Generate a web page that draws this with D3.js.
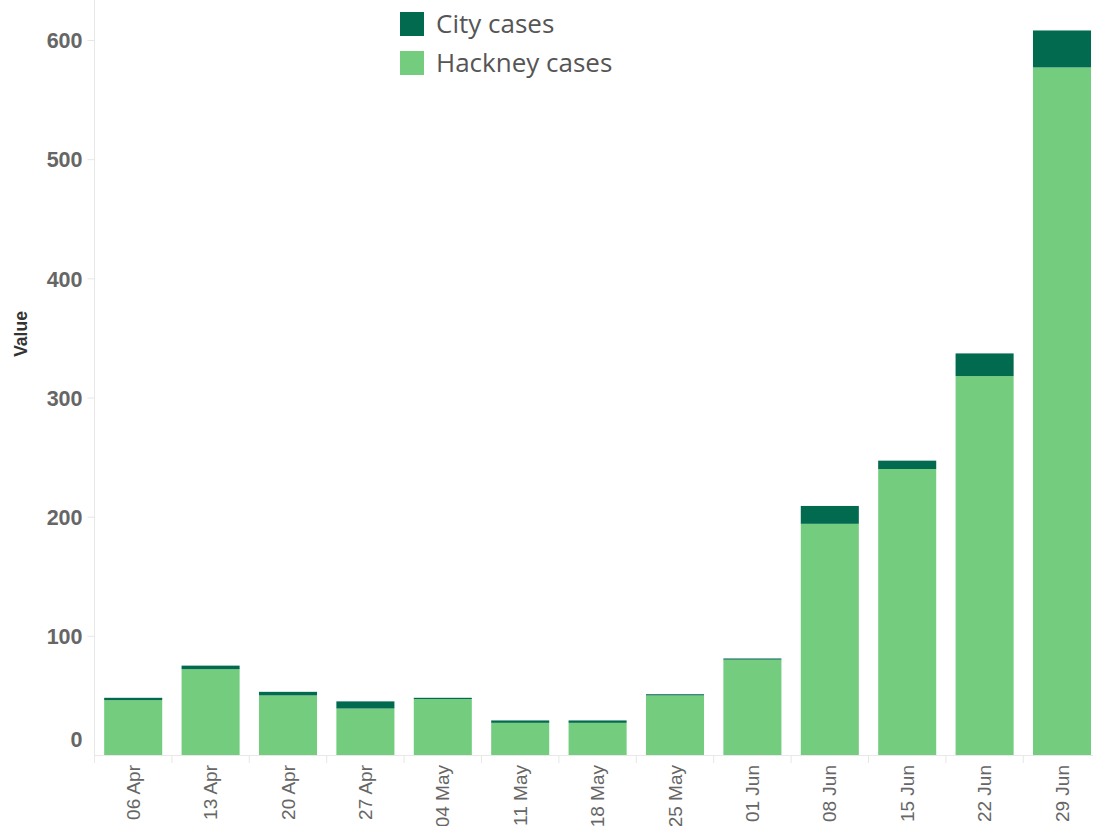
<!DOCTYPE html>
<html><head><meta charset="utf-8">
<script src="https://cdn.jsdelivr.net/npm/d3@7"></script>
<style>body{margin:0;background:#fff;overflow:hidden}svg{display:block}</style>
</head><body>
<svg id="c" width="1093" height="826"></svg>
<script>
const weeks = ["06 Apr","13 Apr","20 Apr","27 Apr","04 May","11 May","18 May","25 May","01 Jun","08 Jun","15 Jun","22 Jun","29 Jun"];
const hackney = [46,72,50,39,47,27,27,50,80,194,240,318,577];
const city = [2,3,3,6,1,2,2,1,1,15,7,19,31];
const yTicks = [0,100,200,300,400,500,600];
const seriesNames = ["City cases","Hackney cases"];
const colors = ["#026a4e","#74cd7e"];

const svg = d3.select("#c");
const arial = "'Liberation Sans', Arial, sans-serif";
const book = "'Open Sans', sans-serif";
const x = d3.scaleBand().domain(weeks).range([94.5, 1100.7]).paddingInner(0.25).paddingOuter(0.125);
const y = d3.scaleLinear().domain([0, 600]).range([755, 40]);

// axis lines
svg.append("line").attr("x1",94.5).attr("x2",94.5).attr("y1",0).attr("y2",763).attr("stroke","#e8e8e8");
svg.append("line").attr("x1",94.5).attr("x2",1093).attr("y1",755.5).attr("y2",755.5).attr("stroke","#e8e8e8");

// y axis
const yAxis = svg.append("g").attr("transform","translate(94.5,0)")
  .call(d3.axisLeft(y).tickValues(yTicks).tickSize(7).tickPadding(5));
yAxis.select(".domain").remove();
yAxis.selectAll(".tick line").attr("stroke","#e6e6e6");
yAxis.selectAll(".tick text").attr("fill","#666").attr("font-family",arial)
  .attr("font-size",21.5).attr("font-weight","bold").attr("dy","0.36em")
  .attr("y", d => d === 0 ? -16 : 0);
yAxis.selectAll(".tick").filter(d => d === 0).select("line").remove();

svg.append("text").attr("transform","translate(27,334) rotate(-90)")
  .attr("text-anchor","middle").attr("font-family",arial).attr("font-size",17.5)
  .attr("font-weight","bold").attr("fill","#333").text("Value");

// x dividers
svg.append("g").selectAll("line").data(weeks.slice(1)).join("line")
  .attr("x1", d => x(d) - x.step()*x.paddingInner()/2).attr("x2", d => x(d) - x.step()*x.paddingInner()/2)
  .attr("y1",756).attr("y2",763).attr("stroke","#e6e6e6");

// x labels
svg.append("g").selectAll("text").data(weeks).join("text")
  .attr("transform", d => `translate(${x(d)+x.bandwidth()/2},765) rotate(-90)`)
  .attr("text-anchor","end").attr("dy","0.35em").attr("font-family",arial)
  .attr("font-size",19).attr("fill","#666").text(d => d);

// bars
const rows = weeks.map((w,i) => ({w, h: hackney[i], c: city[i]}));
const g = svg.append("g");
g.selectAll(".h").data(rows).join("rect").attr("class","h")
  .attr("x", d => x(d.w)).attr("width", x.bandwidth())
  .attr("y", d => y(d.h)).attr("height", d => y(0) - y(d.h))
  .attr("fill", colors[1]);
g.selectAll(".c").data(rows).join("rect").attr("class","c")
  .attr("x", d => x(d.w)).attr("width", x.bandwidth())
  .attr("y", d => y(d.h + d.c)).attr("height", d => y(d.h) - y(d.h + d.c))
  .attr("fill", colors[0]);

// legend
const lg = svg.append("g").attr("transform","translate(400,12)");
seriesNames.forEach((n,i) => {
  lg.append("rect").attr("x",0).attr("y",i*39).attr("width",24).attr("height",24).attr("fill",colors[i]);
  lg.append("text").attr("x",36).attr("y",i*39+12).attr("dy","0.36em")
    .attr("font-family",book).attr("font-size",26).attr("fill","#555").text(n);
});
</script>
</body></html>
